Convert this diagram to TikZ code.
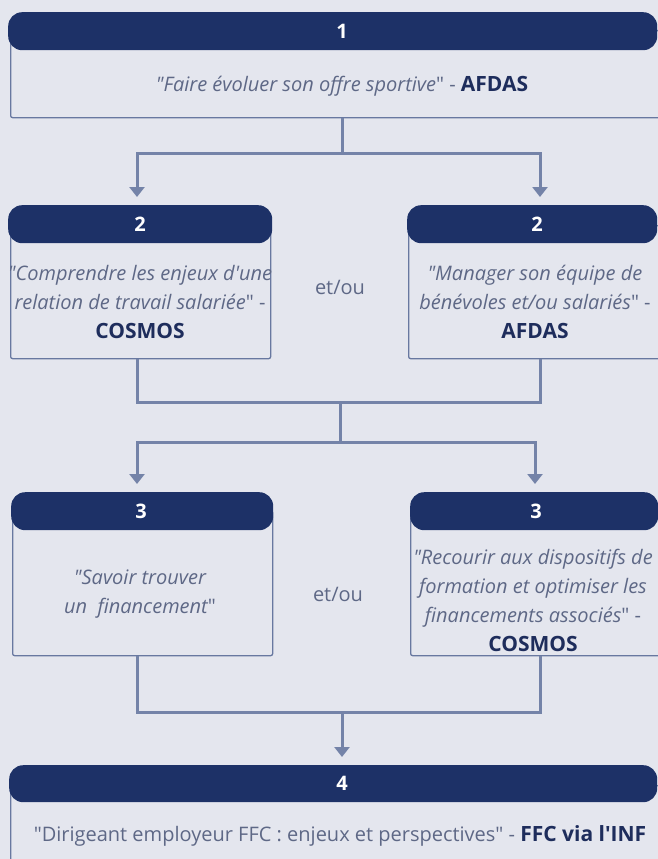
\documentclass[tikz,border=0pt]{standalone}
\usepackage{fontspec}
\setmainfont{Open Sans}[Ligatures=TeXOff]
\usetikzlibrary{arrows.meta}
\definecolor{bgc}{HTML}{E4E6EE}
\definecolor{navy}{HTML}{1D3167}
\definecolor{linec}{HTML}{7483A8}
\definecolor{boxline}{HTML}{6878A0}
\definecolor{txtc}{HTML}{5E6886}
\definecolor{boldc}{HTML}{1E2D5C}
\newcommand\q{\char"22\relax}
\newcommand\apos{\char"27\relax}
\newcommand\kw[1]{{\upshape\bfseries\color{boldc}\fontsize{21}{29}\selectfont#1}}
\begin{document}
\begin{tikzpicture}[x=1pt,y=-1pt,
  body/.style={draw=boxline, line width=1.3pt, fill=bgc, rounded corners=2pt, inner sep=0pt, anchor=north west},
  head/.style={fill=navy, rounded corners=14pt, inner sep=0pt, anchor=north west},
  num/.style={text=white, font=\bfseries\fontsize{20}{20}\selectfont, inner sep=0pt},
  txt/.style={text=txtc, font=\fontsize{20}{29}\selectfont, align=center, inner sep=0pt},
  itx/.style={txt, font=\itshape\fontsize{20}{29}\selectfont},
  conn/.style={draw=linec, line width=3pt},
  arr/.style={-{Triangle[width=15pt,length=10pt]}},
]
\fill[bgc] (0,0) rectangle (658,859);
\useasboundingbox (0,0) rectangle (658,859);
\clip (0,0) rectangle (658,859);

% box 1
\node[body, minimum width=660pt, minimum height=87pt] (b1) at (10,30) {};
\node[head, minimum width=649pt, minimum height=38pt] (h1) at (8,12) {};
\node[num] (n1) at (342,31) {1};
\node[itx] (t1) at (342,86) {\q Faire évoluer son offre sportive\upshape\q{} - \kw{AFDAS}};

% box 2 left
\node[body, minimum width=260pt, minimum height=133pt] (b2L) at (10,225) {};
\node[head, minimum width=264pt, minimum height=38pt] (h2L) at (8,205) {};
\node[num] (n2L) at (140,224) {2};
\node[itx] (t2L) at (140,302) {\q Comprendre les enjeux d\apos une\\relation de travail salariée\upshape\q{} -\\\kw{COSMOS}};

% box 2 right
\node[body, minimum width=260pt, minimum height=133pt] (b2R) at (408,225) {};
\node[head, minimum width=250pt, minimum height=38pt] (h2R) at (407,205) {};
\node[num] (n2R) at (537,224) {2};
\node[itx] (t2R) at (535,302) {\q Manager son équipe de\\bénévoles et/ou salariés\upshape\q{} -\\\kw{AFDAS}};

\node[txt] (o2) at (340,287) {et/ou};

% box 3 left
\node[body, minimum width=260pt, minimum height=145pt] (b3L) at (12,510) {};
\node[head, minimum width=262pt, minimum height=38pt] (h3L) at (11,492) {};
\node[num] (n3L) at (141,511) {3};
\node[itx] (t3L) at (140,594) {\q Savoir trouver\\un~ financement\upshape\q};

% box 3 right
\node[body, minimum width=260pt, minimum height=145pt] (b3R) at (410,510) {};
\node[head, minimum width=248pt, minimum height=38pt] (h3R) at (410,492) {};
\node[num] (n3R) at (536,511) {3};
\node[itx] (t3R) at (533,600) {\q Recourir aux dispositifs de\\formation et optimiser les\\financements associés\upshape\q{} -\\\kw{COSMOS}};

\node[txt] (o3) at (338,594) {et/ou};

% box 4
\node[body, minimum width=660pt, minimum height=100pt] (b4) at (10,785) {};
\node[head, minimum width=648pt, minimum height=37pt] (h4) at (9,765) {};
\node[num] (n4) at (342,783) {4};
\node[txt] (t4) at (340,836) {\q Dirigeant employeur FFC : enjeux et perspectives\q{} - \kw{FFC via l\apos INF}};

% connectors 1 -> 2
\coordinate (j1) at (342,153);
\coordinate (a2L) at (137,197);
\coordinate (a2R) at (540,197);
\draw[conn] (b1.south -| j1) -- (j1);
\draw[conn,arr] (j1) -| (a2L);
\draw[conn,arr] (j1) -| (a2R);

% connectors 2 -> 3
\coordinate (m2L) at (137,402);
\coordinate (m2R) at (540,402);
\coordinate (m2) at (340,402);
\coordinate (j2) at (340,442);
\coordinate (a3L) at (137,484);
\coordinate (a3R) at (535,484);
\draw[conn] (b2L.south -| m2L) -- (m2L) -- (m2R) -- (b2R.south -| m2R);
\draw[conn] (m2) -- (j2);
\draw[conn,arr] (j2) -| (a3L);
\draw[conn,arr] (j2) -| (a3R);

% connectors 3 -> 4
\coordinate (m3L) at (137,712);
\coordinate (m3R) at (540,712);
\coordinate (m3) at (342,712);
\coordinate (a4) at (342,757);
\draw[conn] (b3L.south -| m3L) -- (m3L) -- (m3R) -- (b3R.south -| m3R);
\draw[conn,arr] (m3) -- (a4);
\end{tikzpicture}
\end{document}
